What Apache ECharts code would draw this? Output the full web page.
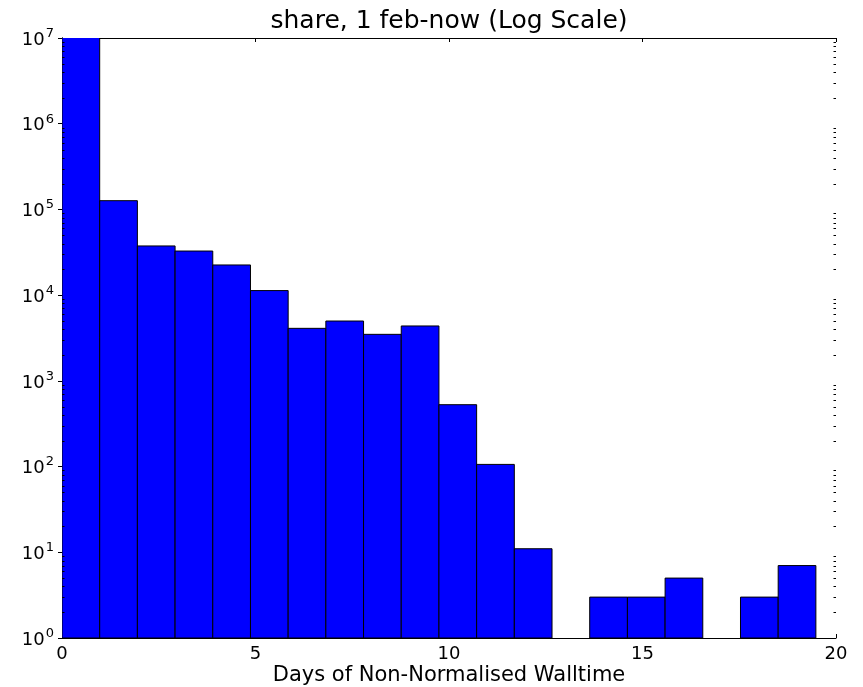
<!DOCTYPE html>
<html>
<head>
<meta charset="utf-8">
<script src="https://cdn.jsdelivr.net/npm/echarts@6/dist/echarts.min.js"></script>
<style>html,body{margin:0;padding:0;background:#fff;}#c{width:863px;height:687px;}</style>
</head>
<body>
<div id="c"></div>
<script>
var titleText = 'share, 1 feb-now (Log Scale)';
var xLabelText = 'Days of Non-Normalised Walltime';
var binEdges = [0, 0.974, 1.948, 2.922, 3.896, 4.870, 5.844, 6.818, 7.792, 8.766, 9.740,
  10.714, 11.688, 12.662, 13.636, 14.610, 15.584, 16.558, 17.532, 18.506, 19.480];
var counts = [15000000, 126500, 37500, 32700, 22500, 11300, 4100, 4990, 3490, 4370,
  527, 106, 11, 0, 3, 3, 5, 0, 3, 7];
var xTicks = [0, 5, 10, 15, 20];
var yDecades = [1, 10, 100, 1000, 10000, 100000, 1000000, 10000000];
var minorMultipliers = [2, 3, 4, 5, 6, 7, 8, 9];

var barData = [];
for (var i = 0; i < counts.length; i++) {
  if (counts[i] > 0) barData.push([binEdges[i], binEdges[i + 1], counts[i]]);
}
var minorData = [];
for (var d = 0; d < yDecades.length - 1; d++) {
  for (var m = 0; m < minorMultipliers.length; m++) minorData.push([0, yDecades[d] * minorMultipliers[m]]);
}

var FONT = 'DejaVu Sans';
var chart = echarts.init(document.getElementById('c'), null, {renderer: 'canvas'});
var yLabel = {
  show: true,
  margin: 8,
  fontFamily: FONT,
  color: '#000',
  formatter: function (v) {
    var e = Math.round(Math.log10(v));
    return '{a|10}{b|' + e + '}';
  },
  rich: {
    a: {fontSize: 18, fontFamily: FONT, color: '#000', verticalAlign: 'bottom'},
    b: {fontSize: 13, fontFamily: FONT, color: '#000', verticalAlign: 'bottom', padding: [0, 0, 9, 1]}
  }
};
var tickStyle = {show: true, inside: true, length: 4, lineStyle: {color: '#000', width: 1}};
var lineStyle = {show: true, lineStyle: {color: '#000', width: 1}};

chart.setOption({
  animation: false,
  backgroundColor: '#fff',
  grid: {left: 62, right: 27, top: 38, bottom: 49, containLabel: false, outerBoundsMode: 'none'},
  graphic: [{
    type: 'text', x: 449, y: 21,
    style: {text: titleText, font: '25px "DejaVu Sans"', fill: '#000', align: 'center', verticalAlign: 'middle'}
  }],
  xAxis: [{
    type: 'value', min: 0, max: 20, interval: 5, position: 'bottom',
    axisLine: lineStyle, axisTick: tickStyle, splitLine: {show: false},
    axisLabel: {fontSize: 18, fontFamily: FONT, color: '#000', margin: 7},
    name: xLabelText, nameLocation: 'middle', nameGap: 27, nameMoveOverlap: false,
    nameTextStyle: {fontSize: 21, fontFamily: FONT, color: '#000'}
  }, {
    type: 'value', min: 0, max: 20, interval: 5, position: 'top',
    axisLine: lineStyle, axisTick: tickStyle, splitLine: {show: false},
    axisLabel: {show: false}
  }],
  yAxis: [{
    type: 'log', logBase: 10, min: 1, max: 10000000, splitNumber: 7, position: 'left',
    axisLine: lineStyle, axisTick: tickStyle, splitLine: {show: false},
    axisLabel: yLabel
  }, {
    type: 'log', logBase: 10, min: 1, max: 10000000, splitNumber: 7, position: 'right',
    axisLine: lineStyle, axisTick: tickStyle, splitLine: {show: false},
    axisLabel: {show: false}
  }],
  series: [{
    type: 'custom',
    xAxisIndex: 0, yAxisIndex: 0,
    clip: true,
    data: barData,
    encode: {x: [0, 1], y: 2},
    renderItem: function (params, api) {
      var p0 = api.coord([api.value(0), 1]);
      var p1 = api.coord([api.value(1), api.value(2)]);
      return {
        type: 'rect',
        shape: {x: p0[0], y: p1[1], width: p1[0] - p0[0], height: p0[1] - p1[1]},
        style: {fill: '#0000ff', stroke: '#000', lineWidth: 1}
      };
    },
    z: 1
  }, {
    type: 'custom',
    xAxisIndex: 0, yAxisIndex: 0,
    data: minorData,
    encode: {x: 0, y: 1},
    renderItem: function (params, api) {
      var v = api.value(1);
      var l = api.coord([0, v]);
      var r = api.coord([20, v]);
      var y = Math.round(l[1]) + 0.5;
      return {
        type: 'group',
        children: [
          {type: 'line', shape: {x1: l[0], y1: y, x2: l[0] + 2.5, y2: y}, style: {stroke: '#000', lineWidth: 1}},
          {type: 'line', shape: {x1: r[0], y1: y, x2: r[0] - 2.5, y2: y}, style: {stroke: '#000', lineWidth: 1}}
        ]
      };
    },
    silent: true,
    z: 10
  }]
});
</script>
</body>
</html>
